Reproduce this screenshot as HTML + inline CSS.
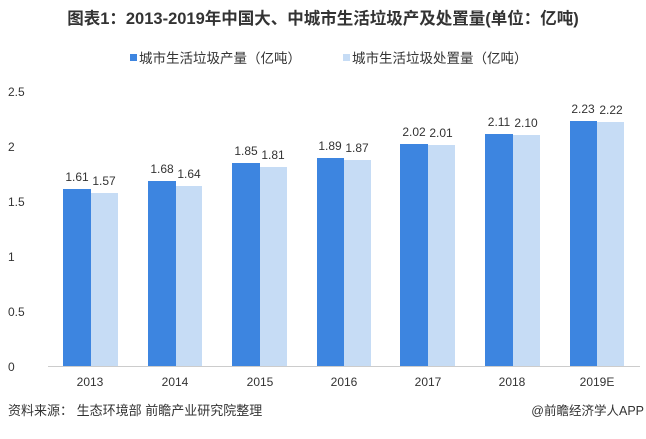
<!DOCTYPE html><html><head><meta charset="utf-8"><style>
body{margin:0;width:646px;height:434px;background:#fff;overflow:hidden;font-family:"Liberation Sans","Noto Sans CJK SC",sans-serif}
</style></head><body>
<svg width="646" height="434" xmlns="http://www.w3.org/2000/svg" font-family="Liberation Sans, Noto Sans CJK SC, sans-serif">
<text x="323" y="24" text-anchor="middle" font-size="16.5" font-weight="bold" fill="#333">图表1：2013-2019年中国大、中城市生活垃圾产及处置量(单位：亿吨)</text>
<rect x="130" y="54" width="7" height="7" fill="#3d85e0"/>
<text x="139" y="63" font-size="13.5" fill="#333">城市生活垃圾产量（亿吨）</text>
<rect x="343" y="54" width="7" height="7" fill="#c6dcf5"/>
<text x="352" y="63" font-size="13.5" fill="#333">城市生活垃圾处置量（亿吨）</text>
<g font-size="12" fill="#333" text-anchor="start">
<text x="8" y="96">2.5</text><text x="8" y="151">2</text><text x="8" y="206">1.5</text><text x="8" y="261">1</text><text x="8" y="316">0.5</text><text x="8" y="371">0</text>
</g>
<line x1="48" y1="366.5" x2="640" y2="366.5" stroke="#ccc"/>
<g font-size="12" fill="#333" text-anchor="middle">
<rect x="63" y="189" width="28" height="177" fill="#3d85e0"/><rect x="91" y="193" width="27" height="173" fill="#c6dcf5"/>
<text x="77" y="181">1.61</text><text x="104" y="185">1.57</text><text x="90" y="386">2013</text>
<rect x="148" y="181" width="28" height="185" fill="#3d85e0"/><rect x="176" y="186" width="26" height="180" fill="#c6dcf5"/>
<text x="162" y="173">1.68</text><text x="189" y="178">1.64</text><text x="175" y="386">2014</text>
<rect x="232" y="163" width="28" height="203" fill="#3d85e0"/><rect x="260" y="167" width="27" height="199" fill="#c6dcf5"/>
<text x="246" y="155">1.85</text><text x="273" y="159">1.81</text><text x="260" y="386">2015</text>
<rect x="317" y="158" width="27" height="208" fill="#3d85e0"/><rect x="344" y="160" width="27" height="206" fill="#c6dcf5"/>
<text x="330" y="150">1.89</text><text x="357" y="152">1.87</text><text x="344" y="386">2016</text>
<rect x="400" y="144" width="28" height="222" fill="#3d85e0"/><rect x="428" y="145" width="27" height="221" fill="#c6dcf5"/>
<text x="414" y="136">2.02</text><text x="441" y="137">2.01</text><text x="428" y="386">2017</text>
<rect x="485" y="134" width="28" height="232" fill="#3d85e0"/><rect x="513" y="135" width="27" height="231" fill="#c6dcf5"/>
<text x="499" y="126">2.11</text><text x="526" y="127">2.10</text><text x="512" y="386">2018</text>
<rect x="570" y="121" width="27" height="245" fill="#3d85e0"/><rect x="597" y="122" width="27" height="244" fill="#c6dcf5"/>
<text x="583" y="113">2.23</text><text x="611" y="114">2.22</text><text x="597" y="386">2019E</text>
</g>
<text x="8" y="415" font-size="13" fill="#333">资料来源： 生态环境部 前瞻产业研究院整理</text>
<text x="644" y="415" font-size="12.5" fill="#333" text-anchor="end">@前瞻经济学人APP</text>
</svg>
</body></html>
